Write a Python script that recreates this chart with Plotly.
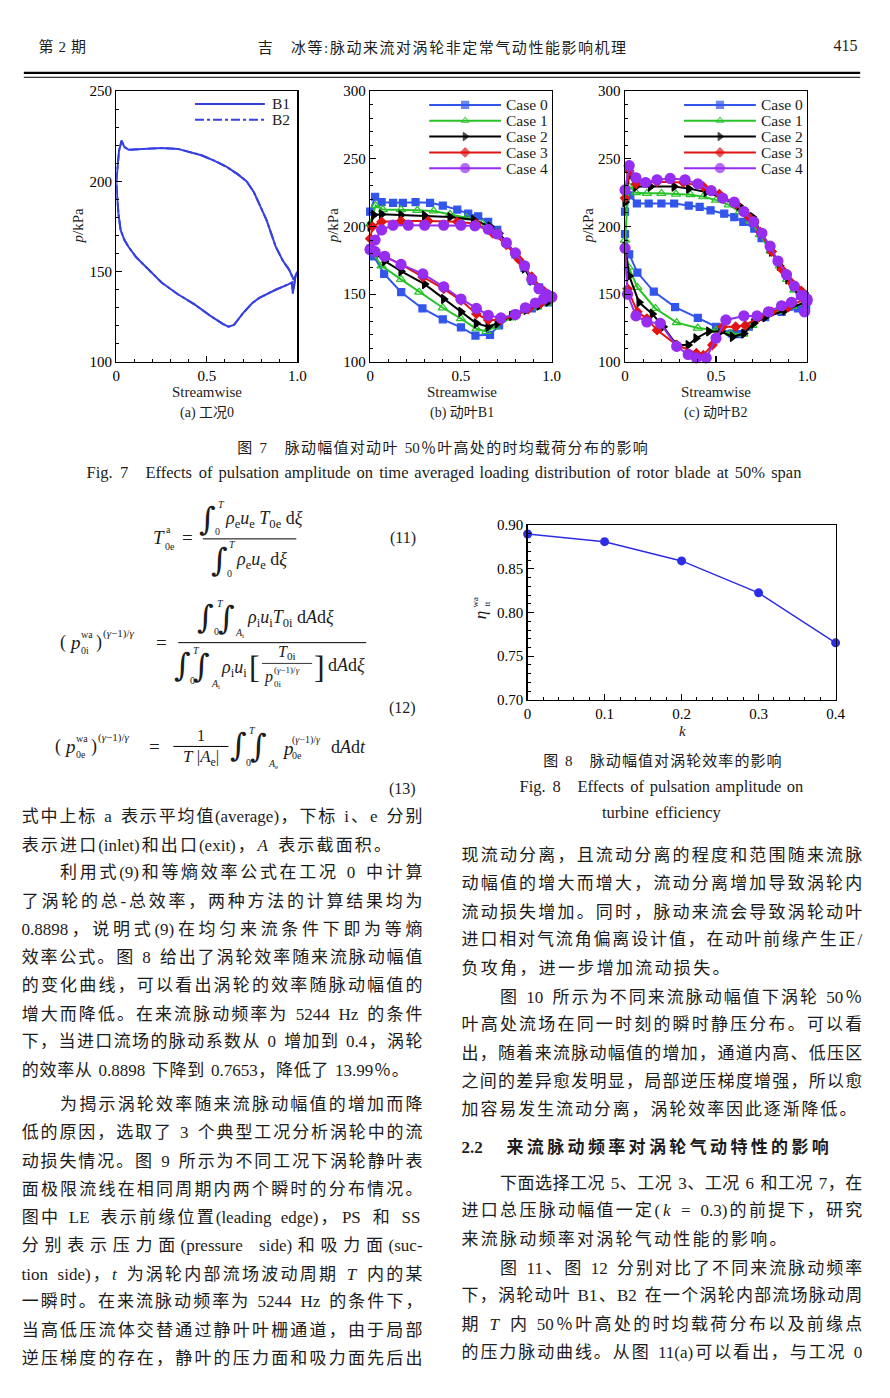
import plotly.graph_objects as go

# ======================= DATA =======================
# Fig.7(a) case 0, rotor blade B1 (B2 coincides with B1 in case 0)
a_ps_x = [0, 0.005, 0.015, 0.029, 0.045, 0.069, 0.15, 0.25, 0.34, 0.40, 0.47, 0.54, 0.61, 0.67, 0.72, 0.76, 0.79, 0.83, 0.88, 0.92, 0.955, 0.98]
a_ps_p = [200, 207, 217, 222.5, 219, 217.5, 218, 218.5, 218, 216.5, 214.5, 211.5, 208, 204, 200, 194, 187.5, 178.5, 164, 156, 151, 145.5]
a_ss_x = [0, 0.005, 0.012, 0.024, 0.045, 0.069, 0.11, 0.16, 0.25, 0.34, 0.43, 0.52, 0.59, 0.62, 0.65, 0.70, 0.75, 0.79, 0.88, 0.95, 0.97, 0.975, 0.99, 1.0]
a_ss_p = [200, 191, 182, 173, 167.5, 163.5, 158, 153, 144, 137.5, 132, 125.5, 121, 119.5, 120.5, 127, 132.5, 135.5, 140, 143, 144, 138, 147.5, 150]
a_names = ["B1", "B2"]

# Fig.7(b) rotor blade B1, cases 0-4 (ps = upper/pressure side, ss = lower/suction side)
b1c0_ps_x = [0, 0.027, 0.063, 0.126, 0.18, 0.25, 0.33, 0.40, 0.48, 0.54, 0.595, 0.65, 0.70, 0.75, 0.80, 0.85, 0.89, 0.93, 0.96, 0.98]
b1c0_ps_p = [211, 222, 218, 217.5, 217.5, 218, 217.5, 215.5, 212.5, 209.5, 207.5, 203.5, 197.5, 188, 179.5, 169.5, 160, 155, 150, 146.5]
b1c0_ss_x = [0, 0.02, 0.077, 0.171, 0.288, 0.40, 0.50, 0.58, 0.66, 0.71, 0.80, 0.89, 0.98]
b1c0_ss_p = [183.5, 178, 165, 151.5, 139.5, 131.5, 125.5, 119.5, 120, 127, 135.5, 139.5, 144]

b1c1_ps_x = [0, 0.03, 0.07, 0.17, 0.26, 0.35, 0.44, 0.53, 0.62, 0.70, 0.75, 0.80, 0.85, 0.89, 0.93, 0.96, 0.98]
b1c1_ps_p = [202, 215.5, 212.5, 212.5, 212, 211.5, 209, 206.5, 202, 196, 188, 180, 170, 161, 154, 150, 147]
b1c1_ss_x = [0, 0.063, 0.17, 0.27, 0.40, 0.50, 0.585, 0.64, 0.69, 0.77, 0.85, 0.92, 0.98]
b1c1_ss_p = [183, 171, 161, 151.5, 140, 132, 124.5, 122.5, 126, 132.5, 137.5, 140.5, 143.5]

b1c2_ps_x = [0, 0.02, 0.063, 0.17, 0.30, 0.44, 0.57, 0.66, 0.71, 0.75, 0.80, 0.85, 0.89, 0.93, 0.96, 0.98]
b1c2_ps_p = [200, 208.5, 209, 208.5, 208, 207, 205, 200, 195, 188, 180, 169, 160, 154, 150, 147]
b1c2_ss_x = [0, 0.08, 0.17, 0.30, 0.405, 0.50, 0.585, 0.65, 0.70, 0.78, 0.86, 0.93, 0.98]
b1c2_ss_p = [183.5, 174.5, 167, 157.5, 146.5, 137, 128.5, 126, 128.5, 134, 138.5, 141.5, 144.5]

b1c3_ps_x = [0, 0.013, 0.063, 0.17, 0.32, 0.48, 0.585, 0.675, 0.75, 0.82, 0.89, 0.96, 0.99]
b1c3_ps_p = [191, 200, 203.5, 204, 204, 203.5, 202, 195, 186.5, 175.5, 163, 152, 148]
b1c3_ss_x = [0, 0.08, 0.17, 0.29, 0.405, 0.50, 0.585, 0.65, 0.72, 0.80, 0.87, 0.94, 0.99]
b1c3_ss_p = [183, 178, 172, 162.5, 154, 145.5, 135.5, 131, 131, 134.5, 139, 143.5, 148]

b1c4_ps_x = [0.0, 0.027, 0.063, 0.126, 0.21, 0.30, 0.405, 0.50, 0.577, 0.65, 0.70, 0.75, 0.80, 0.85, 0.89, 0.93, 0.97, 1.0]
b1c4_ps_p = [183, 190, 197.5, 201, 201, 201, 201, 201, 200.5, 198, 194.5, 188, 180.5, 171, 161, 154, 150, 148]
b1c4_ss_x = [0, 0.027, 0.08, 0.17, 0.29, 0.405, 0.50, 0.585, 0.65, 0.72, 0.80, 0.855, 0.91, 0.955, 0.98, 1.0]
b1c4_ss_p = [183, 181.5, 178, 172, 165, 155.5, 146.5, 139.5, 134.5, 132.5, 135, 140, 143.5, 146.5, 149, 148]

# Fig.7(c) rotor blade B2, cases 0-4
b2c0_ps_x = [0, 0.029, 0.065, 0.13, 0.20, 0.27, 0.35, 0.41, 0.47, 0.545, 0.60, 0.65, 0.71, 0.75, 0.80, 0.84, 0.89, 0.93, 0.97, 0.985]
b2c0_ps_p = [211, 223, 217, 217, 217, 217, 215.5, 214.5, 212, 209.5, 207, 203.5, 198.5, 191.5, 183, 174.5, 163.5, 155, 150, 148]
b2c0_ss_x = [0, 0.023, 0.068, 0.158, 0.275, 0.40, 0.50, 0.586, 0.63, 0.68, 0.77, 0.86, 0.95, 0.995]
b2c0_ss_p = [194.5, 179.5, 166, 152, 140.5, 132.5, 126, 121, 120.5, 126, 133, 137, 139.5, 139.5]

b2c1_ps_x = [0, 0.02, 0.06, 0.12, 0.20, 0.28, 0.36, 0.43, 0.50, 0.57, 0.63, 0.69, 0.74, 0.80, 0.85, 0.89, 0.93, 0.97]
b2c1_ps_p = [190, 230, 225, 224.5, 224.5, 224, 223.5, 222, 219.5, 216, 211, 204, 194, 182, 171, 161, 153, 148]
b2c1_ss_x = [0, 0.02, 0.068, 0.167, 0.284, 0.40, 0.50, 0.58, 0.65, 0.70, 0.76, 0.84, 0.92, 0.98]
b2c1_ss_p = [185, 170, 155, 139.5, 129, 125, 123.5, 121, 120.5, 127, 133, 137.5, 141, 143]

b2c2_ps_x = [0, 0.023, 0.06, 0.14, 0.27, 0.35, 0.446, 0.536, 0.626, 0.70, 0.75, 0.805, 0.85, 0.895, 0.95, 0.985]
b2c2_ps_p = [218, 238, 229.5, 229.5, 229.5, 228, 225.5, 221, 215.5, 207, 195, 181.5, 171, 161, 154, 151]
b2c2_ss_x = [0, 0.023, 0.077, 0.15, 0.21, 0.284, 0.347, 0.39, 0.46, 0.527, 0.59, 0.653, 0.707, 0.77, 0.878, 0.986]
b2c2_ss_p = [185, 163.5, 144, 135.5, 126, 112.5, 112.5, 117.5, 122.5, 122.5, 118.5, 121, 128.5, 133, 138, 144]

b2c3_ps_x = [0, 0.023, 0.06, 0.176, 0.32, 0.43, 0.518, 0.608, 0.68, 0.743, 0.806, 0.86, 0.914, 0.968]
b2c3_ps_p = [221, 241, 231.5, 233, 232.5, 229.5, 224, 216.5, 207, 196, 181.5, 168.5, 158.5, 152.5]
b2c3_ss_x = [0, 0.014, 0.068, 0.12, 0.176, 0.284, 0.392, 0.43, 0.48, 0.536, 0.608, 0.66, 0.734, 0.806, 0.896, 0.986]
b2c3_ss_p = [184, 154, 137, 132, 123.5, 112.5, 106.5, 105, 112.5, 126, 126, 127, 133, 137, 140.5, 146.5]

b2c4_ps_x = [0, 0.023, 0.06, 0.113, 0.176, 0.248, 0.33, 0.40, 0.473, 0.536, 0.60, 0.653, 0.707, 0.752, 0.797, 0.84, 0.887, 0.93, 0.977, 1.0]
b2c4_ps_p = [227, 245, 236, 232.5, 234.5, 235.5, 234.5, 231.5, 226.5, 221, 218, 211, 203.5, 195, 185.5, 174.5, 164.5, 156, 149, 145]
b2c4_ss_x = [0, 0.014, 0.06, 0.12, 0.194, 0.284, 0.347, 0.392, 0.446, 0.50, 0.554, 0.653, 0.725, 0.788, 0.86, 0.914, 0.968, 0.986, 1.0]
b2c4_ss_p = [184, 150, 134, 129.5, 128.5, 111.5, 105.5, 103, 103, 117.5, 131, 134, 134, 137, 141.5, 144, 149, 137, 146.5]

case_names = ["Case 0", "Case 1", "Case 2", "Case 3", "Case 4"]

# Fig.8 turbine efficiency vs pulsation amplitude k
k_vals = [0, 0.1, 0.2, 0.3, 0.4]
eta_vals = [0.8898, 0.881, 0.859, 0.8225, 0.7653]

# ======================= TEXT =======================
header_left = "第 2 期"
header_title = "吉　冰等:脉动来流对涡轮非定常气动性能影响机理"
header_page = "415"
fig7_cn = "图 7　脉动幅值对动叶 50％叶高处的时均载荷分布的影响"
fig7_en = "Fig. 7　Effects of pulsation amplitude on time averaged loading distribution of rotor blade at 50% span"
fig8_cn = "图 8　脉动幅值对涡轮效率的影响"
fig8_en1 = "Fig. 8　Effects of pulsation amplitude on"
fig8_en2 = "turbine efficiency"
sub_captions = ["(a) 工况0", "(b) 动叶B1", "(c) 动叶B2"]

left_lines = [
    ("式中上标 a 表示平均值(average)，下标 i、e 分别", 819, 0, 425),
    ("表示进口(inlet)和出口(exit)，<i>A</i> 表示截面积。", 848, 0, 393),
    ("利用式(9)和等熵效率公式在工况 0 中计算", 876, 1, 425),
    ("了涡轮的总-总效率，两种方法的计算结果均为", 905, 0, 425),
    ("0.8898，说明式(9)在均匀来流条件下即为等熵", 933, 0, 425),
    ("效率公式。图 8 给出了涡轮效率随来流脉动幅值", 962, 0, 425),
    ("的变化曲线，可以看出涡轮的效率随脉动幅值的", 990, 0, 425),
    ("增大而降低。在来流脉动频率为 5244 Hz 的条件", 1019, 0, 425),
    ("下，当进口流场的脉动系数从 0 增加到 0.4，涡轮", 1047, 0, 425),
    ("的效率从 0.8898 下降到 0.7653，降低了 13.99％。", 1076, 0, 411),
    ("为揭示涡轮效率随来流脉动幅值的增加而降", 1111, 1, 425),
    ("低的原因，选取了 3 个典型工况分析涡轮中的流", 1139, 0, 425),
    ("动损失情况。图 9 所示为不同工况下涡轮静叶表", 1168, 0, 425),
    ("面极限流线在相同周期内两个瞬时的分布情况。", 1196, 0, 425),
    ("图中 LE 表示前缘位置(leading edge)，PS 和 SS", 1225, 0, 425),
    ("分别表示压力面(pressure side)和吸力面(suc-", 1253, 0, 425),
    ("tion side)，<i>t</i> 为涡轮内部流场波动周期 <i>T</i> 内的某", 1282, 0, 425),
    ("一瞬时。在来流脉动频率为 5244 Hz 的条件下，", 1310, 0, 425),
    ("当高低压流体交替通过静叶叶栅通道，由于局部", 1339, 0, 425),
    ("逆压梯度的存在，静叶的压力面和吸力面先后出", 1367, 0, 425),
]
right_lines = [
    ("现流动分离，且流动分离的程度和范围随来流脉", 859, 0, 872),
    ("动幅值的增大而增大，流动分离增加导致涡轮内", 887, 0, 872),
    ("流动损失增加。同时，脉动来流会导致涡轮动叶", 916, 0, 872),
    ("进口相对气流角偏离设计值，在动叶前缘产生正/", 944, 0, 872),
    ("负攻角，进一步增加流动损失。", 973, 0, 737),
    ("图 10 所示为不同来流脉动幅值下涡轮 50％", 1002, 1, 872),
    ("叶高处流场在同一时刻的瞬时静压分布。可以看", 1030, 0, 872),
    ("出，随着来流脉动幅值的增加，通道内高、低压区", 1059, 0, 872),
    ("之间的差异愈发明显，局部逆压梯度增强，所以愈", 1087, 0, 872),
    ("加容易发生流动分离，涡轮效率因此逐渐降低。", 1116, 0, 866),
    ("下面选择工况 5、工况 3、工况 6 和工况 7，在", 1190, 1, 872),
    ("进口总压脉动幅值一定(<i>k</i> = 0.3)的前提下，研究", 1218, 0, 872),
    ("来流脉动频率对涡轮气动性能的影响。", 1247, 0, 795),
    ("图 11、图 12 分别对比了不同来流脉动频率", 1276, 1, 872),
    ("下，涡轮动叶 B1、B2 在一个涡轮内部流场脉动周", 1304, 0, 872),
    ("期 <i>T</i> 内 50％叶高处的时均载荷分布以及前缘点", 1333, 0, 872),
    ("的压力脉动曲线。从图 11(a)可以看出，与工况 0", 1361, 0, 872),
]
section_heading = "2.2　来流脉动频率对涡轮气动特性的影响"

# ======================= STYLE / HELPERS =======================
PAGE_W, PAGE_H = 890, 1398
BODY_M = 8                      # default browser body margin around the plot div
W, H = PAGE_W - 2 * BODY_M, PAGE_H - 2 * BODY_M
SERIF = "Liberation Serif"
CJK = "Noto Sans CJK SC"
MIX = "Liberation Serif, Noto Sans CJK SC"
INTF = "DejaVu Serif"
TXT = "#1c1c1c"


def px(x):
    return (x - BODY_M) / W


def py(y):
    return 1 - (y - BODY_M) / H


LAT_W = dict(zip("abcdefghijklmnopqrstuvwxyz",
                 [.444, .5, .444, .5, .444, .333, .5, .5, .278, .278, .5, .278, .778,
                  .5, .5, .5, .5, .333, .389, .278, .5, .5, .722, .5, .5, .444]))
PUN_W = {".": .25, ",": .25, "(": .333, ")": .333, "-": .333, "/": .278, "%": .833,
         "=": .564, ":": .278, " ": .25}


def lat_width(s, fs):
    w = 0
    for ch in s:
        if ch.isdigit():
            w += .5
        elif ch in LAT_W:
            w += LAT_W[ch]
        elif ch in PUN_W:
            w += PUN_W[ch]
        elif ch.isupper():
            w += .68
        else:
            w += .5
    return w * fs


def is_cjk(ch):
    return ord(ch) >= 0x2E80


def tokenize(s):
    toks = []
    i = 0
    while i < len(s):
        if s.startswith("<i>", i):
            j = s.index("</i>", i)
            toks.append(("lat", s[i:j + 4], s[i + 3:j]))
            i = j + 4
        elif s[i] == " ":
            toks.append(("sp", "", " "))
            i += 1
        elif is_cjk(s[i]):
            toks.append(("cjk", s[i], s[i]))
            i += 1
        else:
            j = i
            while j < len(s) and s[j] != " " and not is_cjk(s[j]) and not s.startswith("<i>", j):
                j += 1
            toks.append(("lat", s[i:j], s[i:j]))
            i = j
    return toks


groups = {}


def layout_line(s, x0, x1, y, fs, bold=False, lat_fs=None):
    lat_fs = lat_fs or fs
    toks = tokenize(s)
    widths = []
    for kind, txt, raw in toks:
        if kind == "cjk":
            widths.append(fs)
        elif kind == "sp":
            widths.append(0.3 * fs)
        else:
            widths.append(lat_width(raw, lat_fs))
    n = len(toks)
    gap = (x1 - x0 - sum(widths)) / (n - 1) if n > 1 else 0
    x = x0
    for (kind, txt, raw), w in zip(toks, widths):
        if kind != "sp" and txt.strip() and txt != "　":
            fam = CJK if kind == "cjk" else SERIF
            size = fs if kind == "cjk" else lat_fs
            key = (fam, size, bold)
            g = groups.setdefault(key, ([], [], []))
            g[0].append(x + w / 2)
            g[1].append(y)
            g[2].append("<b>" + txt + "</b>" if bold else txt)
        x += w + gap


annotations = []


def ann(x, y, text, size, anchor="center", family=SERIF, angle=0):
    annotations.append(dict(x=px(x), y=py(y), xref="paper", yref="paper", text=text,
                            showarrow=False, xanchor=anchor, yanchor="middle",
                            textangle=angle, font=dict(family=family, size=size, color=TXT)))


shapes = []


def hline(x0, x1, y, w=1.0, color="black", dash="solid"):
    shapes.append(dict(type="line", xref="paper", yref="paper", x0=px(x0), x1=px(x1),
                       y0=py(y), y1=py(y), line=dict(color=color, width=w, dash=dash)))


fig = go.Figure()

# ---------------- Fig.7 (a) ----------------
A_BLUE = "rgb(55,65,225)"
a_dashes = ["solid", "dashdot"]
for name, dash in reversed(list(zip(a_names, a_dashes))):
    fig.add_trace(go.Scatter(x=a_ps_x + a_ss_x[::-1], y=a_ps_p + a_ss_p[::-1], mode="lines",
                             line=dict(color=A_BLUE, width=2, dash=dash), name=name,
                             xaxis="x", yaxis="y", showlegend=False,
                             cliponaxis=False, hoverinfo="skip"))

case_colors = ["rgb(50,85,235)", "rgb(40,195,40)", "black", "rgb(225,20,20)", "rgb(150,45,240)"]
case_symbols = ["square", "triangle-up-open", "triangle-right", "diamond", "circle"]
case_sizes = [7, 8, 8, 7, 10]
legend_sizes = [7, 7, 7, 7, 9]

b1_sets = [(b1c0_ps_x, b1c0_ps_p, b1c0_ss_x, b1c0_ss_p),
           (b1c1_ps_x, b1c1_ps_p, b1c1_ss_x, b1c1_ss_p),
           (b1c2_ps_x, b1c2_ps_p, b1c2_ss_x, b1c2_ss_p),
           (b1c3_ps_x, b1c3_ps_p, b1c3_ss_x, b1c3_ss_p),
           (b1c4_ps_x, b1c4_ps_p, b1c4_ss_x, b1c4_ss_p)]
b2_sets = [(b2c0_ps_x, b2c0_ps_p, b2c0_ss_x, b2c0_ss_p),
           (b2c1_ps_x, b2c1_ps_p, b2c1_ss_x, b2c1_ss_p),
           (b2c2_ps_x, b2c2_ps_p, b2c2_ss_x, b2c2_ss_p),
           (b2c3_ps_x, b2c3_ps_p, b2c3_ss_x, b2c3_ss_p),
           (b2c4_ps_x, b2c4_ps_p, b2c4_ss_x, b2c4_ss_p)]

for sets, xa, ya in [(b1_sets, "x2", "y2"), (b2_sets, "x3", "y3")]:
    for i, (psx, psp, ssx, ssp) in enumerate(sets):
        fig.add_trace(go.Scatter(
            x=psx + ssx[::-1], y=psp + ssp[::-1], mode="lines+markers", name=case_names[i],
            line=dict(color=case_colors[i], width=2),
            marker=dict(symbol=case_symbols[i], size=case_sizes[i], color=case_colors[i],
                        line=dict(color=case_colors[i], width=1.2)),
            xaxis=xa, yaxis=ya, showlegend=False, cliponaxis=False, hoverinfo="skip"))

# ---------------- Fig.8 ----------------
F8 = "rgb(45,45,230)"
fig.add_trace(go.Scatter(x=k_vals, y=eta_vals, mode="lines+markers",
                         line=dict(color=F8, width=1.5), marker=dict(color=F8, size=9),
                         xaxis="x4", yaxis="y4", showlegend=False, cliponaxis=False,
                         hoverinfo="skip"))

# ---------------- legend keys (drawn as in the original figure) ----------------
LEG_ROW = 16
# (a)
for i, (name, dash) in enumerate(zip(a_names, a_dashes)):
    yy = 97 + i * LEG_ROW
    hline(194, 265, yy, 2, A_BLUE, dash)
    ann(270, yy, name, 15.5, "left")
# (b), (c)
key_x, key_y, key_sym, key_col, key_size = [], [], [], [], []
for lx0 in (432, 691):
    for i, name in enumerate(case_names):
        yy = 98 + i * LEG_ROW
        hline(lx0, lx0 + 73, yy, 2, case_colors[i])
        key_x.append(lx0 + 36.5)
        key_y.append(yy)
        key_sym.append(case_symbols[i])
        key_col.append(case_colors[i])
        key_size.append(legend_sizes[i])
        ann(lx0 + 76, yy, name, 15.5, "left")
fig.add_trace(go.Scatter(x=key_x, y=key_y, mode="markers",
                         marker=dict(symbol=key_sym, color=key_col, size=key_size,
                                     line=dict(color=key_col, width=1.2)),
                         xaxis="x5", yaxis="y5", showlegend=False, hoverinfo="skip",
                         cliponaxis=False))

# ---------------- page text ----------------
layout_line(header_left, 35, 83, 41, 15)
layout_line(header_title, 258, 632, 42, 15)
layout_line(header_page, 843, 870, 39, 15, lat_fs=16)
hline(20, 870, 65.5, 2.2)
hline(20, 870, 70, 1.0)

layout_line(fig7_cn, 237, 654, 446, 15)
layout_line(fig7_en, 83, 810, 471, 15, lat_fs=16.5)
layout_line(fig8_cn, 548, 790, 763, 15)
layout_line(fig8_en1, 523, 812, 789, 15, lat_fs=16.5)
layout_line(fig8_en2, 608, 728, 815, 15, lat_fs=16.5)

for lines, x0 in [(left_lines, 18), (right_lines, 465)]:
    for text, y, indent, x1 in lines:
        layout_line(text, x0 + indent * 39, x1, y, 17)
layout_line(section_heading, 465, 838, 1154, 17, bold=True)

for (fam, size, bold), (xs, ys, ts) in groups.items():
    fig.add_trace(go.Scatter(x=xs, y=ys, text=ts, mode="text", textposition="middle center",
                             textfont=dict(family=fam, size=size, color=TXT),
                             xaxis="x5", yaxis="y5", showlegend=False, hoverinfo="skip",
                             cliponaxis=False))

# axis titles / sub captions for Fig.7
for cx, lx, cap in [(206, 75, sub_captions[0]), (465, 334, sub_captions[1]), (723, 593, sub_captions[2])]:
    ann(cx, 388, "Streamwise", 15)
    ann(cx, 410, cap, 14, family=MIX)
    ann(lx, 220, "<i>p</i>/kPa", 15, angle=-90)

ann(485, 614, "<i>η</i>", 17, angle=-90)
ann(479, 601, "wa", 9, angle=-90)
ann(491, 602, "tt", 9, angle=-90)
ann(689, 731, "<i>k</i>", 15)

# ---------------- equations ----------------
# (11)
ann(149, 536, "<i>T</i>", 19, "left")
ann(162, 528, "a", 10, "left")
ann(161, 545, "0e", 10, "left")
ann(186, 536, "=", 19)
ann(207, 517, "∫", 32, family=INTF)
ann(215, 502, "<i>T</i>", 10, "left")
ann(212, 530, "0", 10, "left")
ann(222, 517, "<i>ρ</i><sub>e</sub><i>u</i><sub>e</sub> <i>T</i><sub>0e</sub> d<i>ξ</i>", 18, "left")
hline(202, 297, 537, 1.0)
ann(219, 558, "∫", 32, family=INTF)
ann(227, 543, "<i>T</i>", 10, "left")
ann(224, 572, "0", 10, "left")
ann(234, 559, "<i>ρ</i><sub>e</sub><i>u</i><sub>e</sub> d<i>ξ</i>", 18, "left")
ann(405, 536, "(11)", 16)
# (12)
ann(55, 642, "(", 18, "left")
ann(64, 642, "<i>p</i>", 19, "left")
ann(76, 634, "wa", 10, "left")
ann(76, 650, "0i", 10, "left")
ann(91, 642, ")", 18, "left")
ann(98, 633, "(<i>γ</i>−1)/<i>γ</i>", 11, "left")
ann(160, 642, "=", 19)
hline(177, 368, 642, 1.0)
ann(205, 616, "∫", 32, family=INTF)
ann(214, 602, "<i>T</i>", 10, "left")
ann(211, 631, "0", 10, "left")
ann(226, 617, "∫", 32, family=INTF)
ann(233, 633, "<i>A</i><sub>i</sub>", 10, "left")
ann(245, 618, "<i>ρ</i><sub>i</sub><i>u</i><sub>i</sub><i>T</i><sub>0i</sub> d<i>A</i>d<i>ξ</i>", 18, "left")
ann(181, 665, "∫", 32, family=INTF)
ann(190, 650, "<i>T</i>", 10, "left")
ann(187, 680, "0", 10, "left")
ann(201, 666, "∫", 32, family=INTF)
ann(208, 684, "<i>A</i><sub>i</sub>", 10, "left")
ann(218, 668, "<i>ρ</i><sub>i</sub><i>u</i><sub>i</sub>", 18, "left")
ann(254, 667, "[", 32)
ann(287, 652, "<i>T</i><sub>0i</sub>", 16)
hline(262, 313, 663, 0.8)
ann(262, 677, "<i>p</i>", 16, "left")
ann(272, 670, "(<i>γ</i>−1)/<i>γ</i>", 9, "left")
ann(272, 684, "0i", 9, "left")
ann(320, 667, "]", 32)
ann(327, 665, "d<i>A</i>d<i>ξ</i>", 18, "left")
ann(405, 708, "(12)", 16)
# (13)
ann(50, 747, "(", 18, "left")
ann(59, 747, "<i>p</i>", 19, "left")
ann(71, 739, "wa", 10, "left")
ann(71, 755, "0e", 10, "left")
ann(86, 747, ")", 18, "left")
ann(93, 738, "(<i>γ</i>−1)/<i>γ</i>", 11, "left")
ann(153, 747, "=", 19)
ann(200, 736, "1", 16)
hline(172, 228, 747, 1.0)
ann(200, 759, "<i>T</i> |<i>A</i><sub>e</sub>|", 17)
ann(238, 746, "∫", 32, family=INTF)
ann(247, 731, "<i>T</i>", 10, "left")
ann(244, 763, "0", 10, "left")
ann(259, 747, "∫", 32, family=INTF)
ann(266, 765, "<i>A</i><sub>e</sub>", 10, "left")
ann(280, 749, "<i>p</i>", 19, "left")
ann(291, 740, "(<i>γ</i>−1)/<i>γ</i>", 10, "left")
ann(291, 756, "0e", 10, "left")
ann(330, 748, "d<i>A</i>d<i>t</i>", 18, "left")
ann(405, 790, "(13)", 16)


# ---------------- axes ----------------
def ax(domain, anchor, rng, dtick, minor_dtick, fmt, alias=None):
    d = dict(domain=domain, anchor=anchor, range=rng, dtick=dtick, tick0=0,
             tickformat=fmt, showline=True, linecolor="black", linewidth=1.4, mirror=True,
             ticks="inside", ticklen=6, tickwidth=1.1, tickcolor="black",
             showgrid=False, zeroline=False, fixedrange=True,
             tickfont=dict(family=SERIF, size=15, color="black"),
             minor=dict(dtick=minor_dtick, tick0=0, ticks="inside", ticklen=3,
                        tickcolor="black", tickwidth=1, showgrid=False))
    if alias:
        d["labelalias"] = alias
    return d


ydom7 = [py(358), py(84)]

fig.update_layout(
    width=W, height=H, margin=dict(l=0, r=0, t=0, b=0),
    paper_bgcolor="white", plot_bgcolor="rgba(0,0,0,0)", showlegend=False,
    xaxis=ax([px(114), px(298)], "y", [0, 1], 0.5, 0.1, ".1f", {"0.0": "0"}),
    yaxis=ax(ydom7, "x", [100, 250], 50, 10, "d"),
    xaxis2=ax([px(372), px(556.5)], "y2", [0, 1], 0.5, 0.1, ".1f", {"0.0": "0"}),
    yaxis2=ax(ydom7, "x2", [100, 300], 50, 10, "d"),
    xaxis3=ax([px(631), px(816)], "y3", [0, 1], 0.5, 0.1, ".1f", {"0.0": "0"}),
    yaxis3=ax(ydom7, "x3", [100, 300], 50, 10, "d"),
    xaxis4=ax([px(532), px(845)], "y4", [0, 0.4], 0.1, 0.02, ".1f", {"0.0": "0"}),
    yaxis4=ax([py(700), py(523)], "x4", [0.70, 0.90], 0.05, 0.01, ".2f"),
    xaxis5=dict(domain=[0, 1], anchor="y5", range=[BODY_M, BODY_M + W], visible=False,
                fixedrange=True),
    yaxis5=dict(domain=[0, 1], anchor="x5", range=[BODY_M + H, BODY_M], visible=False,
                fixedrange=True),
    annotations=annotations, shapes=shapes,
)

fig.write_html("out.html", include_plotlyjs=True, full_html=True,
               config={"staticPlot": True, "displayModeBar": False})
